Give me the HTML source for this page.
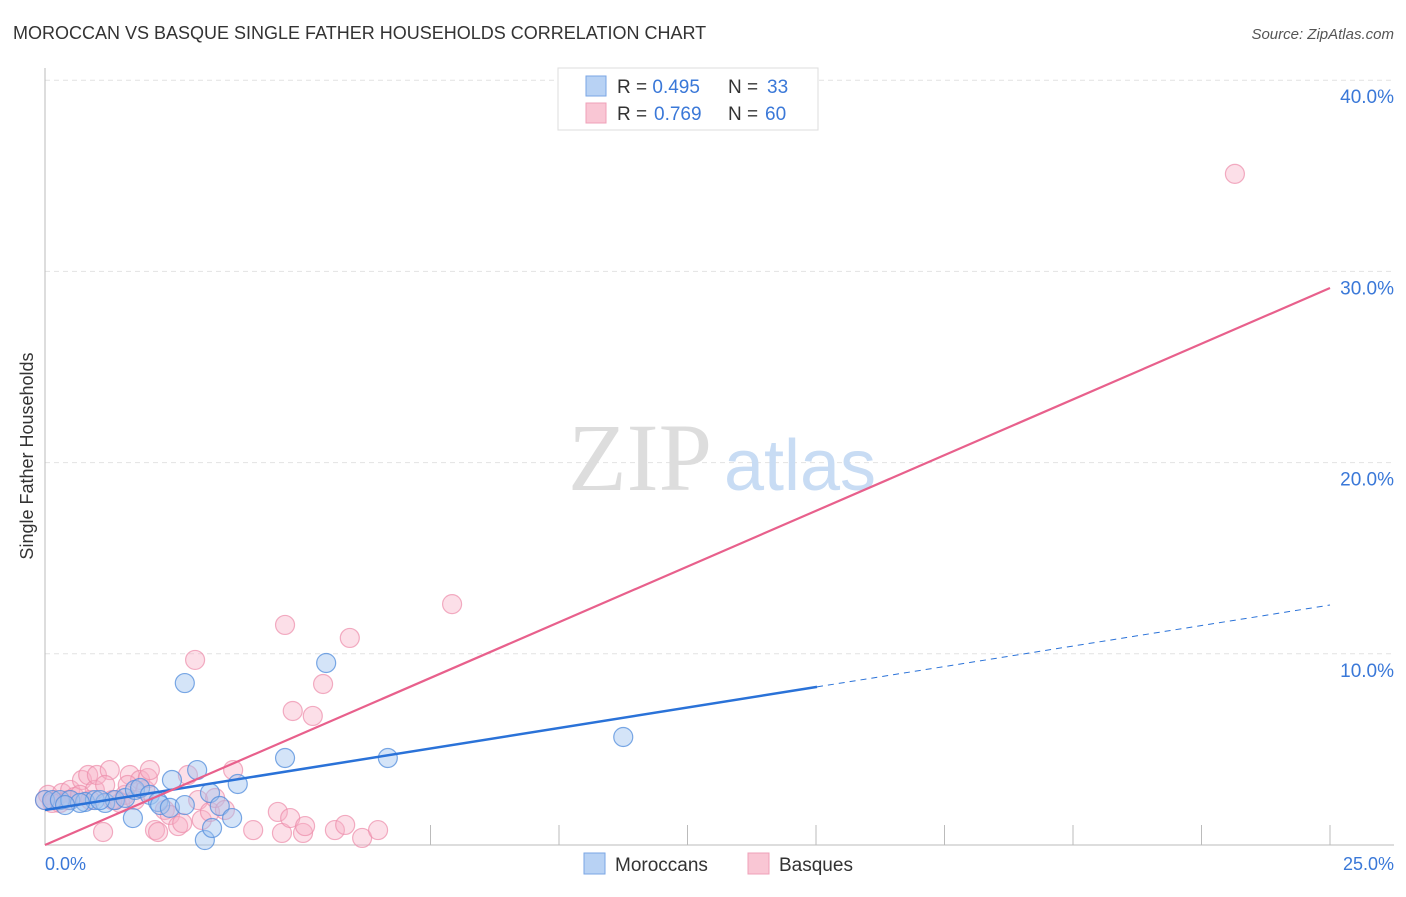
<!DOCTYPE html>
<html><head><meta charset="utf-8"><style>
body{margin:0;background:#fff;font-family:"Liberation Sans",sans-serif;}
</style></head><body>
<svg width="1406" height="892" xmlns="http://www.w3.org/2000/svg" font-family="Liberation Sans, sans-serif">
<text x="13" y="39" font-size="18" fill="#333">MOROCCAN VS BASQUE SINGLE FATHER HOUSEHOLDS CORRELATION CHART</text>
<text x="1394" y="39" font-size="15" fill="#555" font-style="italic" text-anchor="end">Source: ZipAtlas.com</text>
<text x="33" y="456" font-size="18" fill="#333" transform="rotate(-90 33 456)" text-anchor="middle">Single Father Households</text>
<g id="grid"></g>
<line x1="45" y1="68" x2="45" y2="845" stroke="#bbb"/>
<line x1="45" y1="845" x2="1394" y2="845" stroke="#bbb"/>
<g id="xticks"></g>
<text x="640" y="490" font-size="96" fill="#ddd" font-family="Liberation Serif, serif" text-anchor="middle">ZIP</text>
<text x="800" y="490" font-size="72" fill="#c8dcf4" text-anchor="middle">atlas</text>
<g id="pts"></g>
<g id="lines"></g>
<text x="45" y="870" font-size="18" fill="#3a78d8">0.0%</text>
<text x="1394" y="870" font-size="18" fill="#3a78d8" text-anchor="end">25.0%</text>
<g>
<rect x="558" y="68" width="260" height="62" fill="#fff" stroke="#ddd"/>
<rect x="586" y="76" width="20" height="20" fill="#b8d2f4" stroke="#7aa6e4"/>
<rect x="586" y="103" width="20" height="20" fill="#f9c6d4" stroke="#efa0b8"/>
<text x="617" y="93" font-size="19" fill="#333">R = <tspan fill="#3a78d8">0.495</tspan><tspan x="728">N = </tspan><tspan fill="#3a78d8" x="767">33</tspan></text>
<text x="617" y="120" font-size="19" fill="#333">R = <tspan fill="#3a78d8" x="654">0.769</tspan><tspan x="728">N = </tspan><tspan fill="#3a78d8" x="765">60</tspan></text>
</g>
<g>
<rect x="584" y="853" width="21" height="21" fill="#b8d2f4" stroke="#7aa6e4"/>
<text x="615" y="871" font-size="19" fill="#333">Moroccans</text>
<rect x="748" y="853" width="21" height="21" fill="#f9c6d4" stroke="#efa0b8"/>
<text x="779" y="871" font-size="19" fill="#333">Basques</text>
</g>
</svg>
<script>
const yTicks=[10,20,30,40];
const yTickLabels=["10.0%","20.0%","30.0%","40.0%"];
const xTicks=[7.5,10,12.5,15,17.5,20,22.5,25];
const blueX=[0,.14,.29,.49,.78,.97,1.17,1.36,1.56,1.75,1.85,2.04,2.2,2.24,2.43,2.47,2.72,2.72,2.96,3.11,3.21,3.25,3.4,3.64,3.75,4.67,5.47,6.67,11.25,1.71,1.07,.68,.39];
const blueY=[2.35,2.35,2.35,2.35,2.25,2.35,2.2,2.35,2.46,2.88,2.98,2.62,2.25,2.09,1.94,3.4,8.47,2.09,3.92,.26,2.72,.89,2.04,1.41,3.19,4.55,9.52,4.55,5.65,1.41,2.35,2.2,2.09];
const pinkX=[.06,.19,.33,.49,.58,.72,.84,.97,1.01,1.13,1.26,1.36,1.46,1.56,1.65,1.85,1.95,2.0,2.04,2.14,2.2,2.33,2.43,2.59,2.67,2.78,2.92,2.98,3.05,3.21,3.31,3.5,3.66,4.05,4.53,4.61,4.67,4.77,4.82,5.02,5.06,5.21,5.41,5.64,5.84,5.93,6.17,6.48,7.92,23.15,.29,.45,.68,.88,1.17,1.31,1.61,1.75,0,.14];
const pinkY=[2.62,2.35,2.72,2.88,2.51,3.4,3.66,2.88,3.66,.68,3.92,2.35,2.2,2.62,3.66,3.4,2.88,3.5,3.92,.78,.68,1.83,1.57,.99,1.15,3.66,9.68,2.35,1.31,1.73,2.46,1.83,3.92,.78,1.73,.63,11.51,1.41,7.01,.63,.99,6.75,8.42,.78,1.05,10.83,.37,.78,12.6,35.1,2.2,2.35,2.62,2.35,3.14,2.35,3.14,2.35,2.35,2.2];
const blueLine=[0,1.83,15.02,25,12.55];
const pinkLine=[0,0,25,29.13];
const X=v=>45+v*51.4, Y=v=>845-v*19.12;
const NS="http://www.w3.org/2000/svg";
function mk(t,a,p){const e=document.createElementNS(NS,t);for(const k in a)e.setAttribute(k,a[k]);p.appendChild(e);return e;}
const grid=document.getElementById('grid');
yTicks.forEach((t,i)=>{
 const l=mk('line',{x1:45,x2:1394,y1:Y(t),y2:Y(t),stroke:'#e2e2e2','stroke-dasharray':'5,4'},grid);
 
 
 const tx=mk('text',{x:1394,y:Y(t)+23,'font-size':19,fill:'#3a78d8','text-anchor':'end'},grid);
 tx.textContent=yTickLabels[i];
 
 
});
const xt=document.getElementById('xticks');
xTicks.forEach(t=>{
 const l=mk('line',{x1:X(t),x2:X(t),y1:825,y2:845,stroke:'#bbb'},xt);
 
 
});
const pts=document.getElementById('pts');
pinkX.forEach((x,i)=>{
 const c=mk('circle',{cx:X(x),cy:Y(pinkY[i]),r:9.5,fill:'rgba(248,175,198,0.4)',stroke:'rgba(236,140,170,0.7)','stroke-width':1.2},pts);
 
 
});
blueX.forEach((x,i)=>{
 const c=mk('circle',{cx:X(x),cy:Y(blueY[i]),r:9.5,fill:'rgba(160,196,240,0.45)',stroke:'rgba(80,140,220,0.75)','stroke-width':1.2},pts);
 
 
});
const ln=document.getElementById('lines');
const slope=(blueLine[4]-blueLine[1])/(blueLine[3]-blueLine[0]);
const by=v=>blueLine[1]+slope*v;
let a=mk('line',{x1:X(0),y1:Y(by(0)),x2:X(blueLine[2]),y2:Y(by(blueLine[2])),stroke:'#2a72d8','stroke-width':2.5},ln);


a=mk('line',{x1:X(blueLine[2]),y1:Y(by(blueLine[2])),x2:X(blueLine[3]),y2:Y(blueLine[4]),stroke:'#2a72d8','stroke-width':1,'stroke-dasharray':'6,5'},ln);


a=mk('line',{x1:X(pinkLine[0]),y1:Y(pinkLine[1]),x2:X(pinkLine[2]),y2:Y(pinkLine[3]),stroke:'#e8608c','stroke-width':2.2},ln);


</script>
</body></html>
